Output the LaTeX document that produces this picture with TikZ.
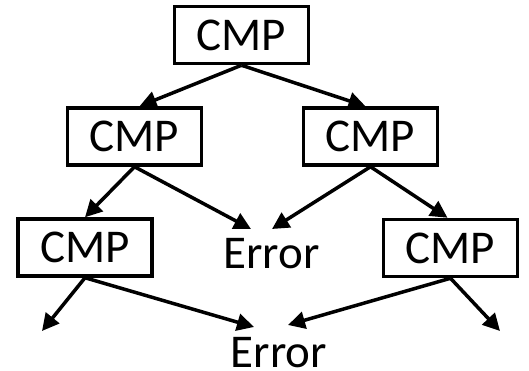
\documentclass[tikz,border=0pt]{standalone}
\usepackage{fontspec}
\setmainfont{Carlito}
\usetikzlibrary{arrows.meta}
\begin{document}
\begin{tikzpicture}[x=1pt,y=-1pt,
  cmpbox/.style={draw, line width=3.5pt, minimum width=134pt, minimum height=57pt, inner sep=0pt, font=\fontsize{47}{50}\selectfont},
  errtext/.style={inner sep=0pt, anchor=base, font=\fontsize{47}{50}\selectfont},
  conn/.style={line width=3.5pt, -{Triangle[length=17pt,width=17pt]}}]
\useasboundingbox (0,0) rectangle (529,371);
\node[cmpbox] (t) at (241.5,35) {CMP};
\node[cmpbox] (ml) at (134.5,136.5) {CMP};
\node[cmpbox] (mr) at (370.5,136.5) {CMP};
\node[cmpbox] (bl) at (85,247.5) {CMP};
\node[cmpbox] (br) at (450.5,248) {CMP};
\node[errtext] (e1) at (271.5,268.5) {Error};
\node[errtext] (e2) at (279,367) {Error};
\coordinate (fl) at (42,331);
\coordinate (fr) at (500,331);
\coordinate (e1l) at (251,229);
\coordinate (e1r) at (272,229);
\coordinate (e2l) at (254,327);
\coordinate (e2r) at (288,325);
\draw[conn] (t.south) -- ([xshift=5pt]ml.north);
\draw[conn] (t.south) -- ([xshift=-5pt]mr.north);
\draw[conn] (ml.south) -- (bl.north);
\draw[conn] (ml.south) -- (e1l);
\draw[conn] (mr.south) -- (e1r);
\draw[conn] (mr.south) -- ([xshift=-3pt]br.north);
\draw[conn] (bl.south) -- (fl);
\draw[conn] (bl.south) -- (e2l);
\draw[conn] (br.south) -- (e2r);
\draw[conn] (br.south) -- (fr);
\end{tikzpicture}
\end{document}
